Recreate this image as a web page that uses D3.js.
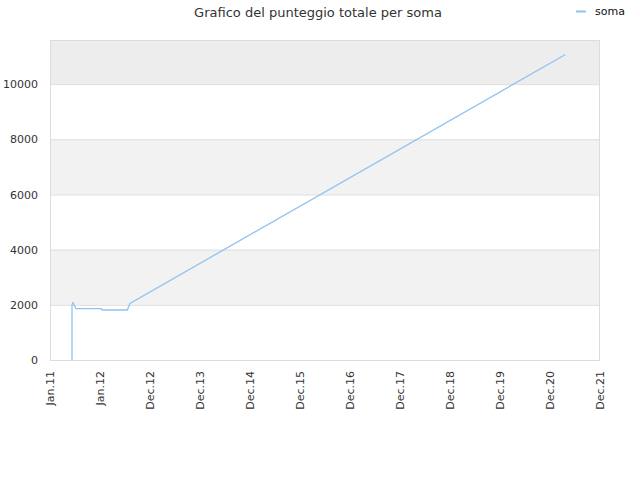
<!DOCTYPE html>
<html>
<head>
<meta charset="utf-8">
<script src="https://cdn.jsdelivr.net/npm/d3@7"></script>
<style>
  body { margin: 0; background: #fff; }
  text { font-family: "DejaVu Sans", sans-serif; }
</style>
</head>
<body>
<svg id="chart" width="640" height="480"></svg>
<script>
// tick labels along the bottom (evenly spaced)
const tickLabels = ["Jan.11", "Jan.12", "Dec.12", "Dec.13", "Dec.14", "Dec.15",
  "Dec.16", "Dec.17", "Dec.18", "Dec.19", "Dec.20", "Dec.21"];
// position of each point, in tick units (0 = Jan.11)
const pointPos = [0.44, 0.44, 0.46, 0.52, 1.03, 1.04, 1.55, 1.56, 1.60, 10.31];
// total score "soma"
const somaValues = [0, 2000, 2076, 1859, 1859, 1812, 1812, 1873, 2054, 11076];
const yTicks = [0, 2000, 4000, 6000, 8000, 10000];

const plotLeft = 50, plotRight = 600, plotTop = 40, plotBottom = 360;

const svg = d3.select("#chart");

const x = d3.scaleLinear().domain([0, tickLabels.length - 1]).range([plotLeft, plotRight]);
const y = d3.scaleLinear().domain([0, 11600]).range([plotBottom, plotTop]);

// bands
const bands = [
  { from: 2000, to: 4000, fill: "#f2f2f2" },
  { from: 6000, to: 8000, fill: "#f2f2f2" },
  { from: 10000, to: 11600, fill: "#ededed" }
];
svg.selectAll(".band")
  .data(bands)
  .join("rect")
  .attr("class", "band")
  .attr("x", plotLeft)
  .attr("width", plotRight - plotLeft)
  .attr("y", d => y(d.to))
  .attr("height", d => y(d.from) - y(d.to))
  .attr("fill", d => d.fill);

// grid lines
svg.selectAll(".grid")
  .data(yTicks.slice(1))
  .join("line")
  .attr("class", "grid")
  .attr("x1", plotLeft).attr("x2", plotRight)
  .attr("y1", d => y(d) + 0.5).attr("y2", d => y(d) + 0.5)
  .attr("stroke", "#dedede");

// frame
svg.append("rect")
  .attr("x", plotLeft + 0.5).attr("y", plotTop + 0.5)
  .attr("width", plotRight - plotLeft - 1).attr("height", plotBottom - plotTop)
  .attr("fill", "none")
  .attr("stroke", "#dcdcdc");

// y axis
const yAxis = d3.axisLeft(y).tickValues(yTicks).tickFormat(d3.format("d"))
  .tickSize(0).tickPadding(12);
svg.append("g")
  .attr("transform", `translate(${plotLeft},0)`)
  .call(yAxis)
  .call(g => g.select(".domain").remove())
  .selectAll("text")
  .attr("font-size", 11)
  .attr("fill", "#333")
  .attr("font-family", "DejaVu Sans, sans-serif");

// x axis
const xAxis = d3.axisBottom(x)
  .tickValues(d3.range(tickLabels.length))
  .tickFormat(i => tickLabels[i])
  .tickSize(0);
svg.append("g")
  .attr("transform", `translate(0,${plotBottom})`)
  .call(xAxis)
  .call(g => g.select(".domain").remove())
  .selectAll("text")
  .attr("font-size", 11)
  .attr("fill", "#333")
  .attr("font-family", "DejaVu Sans, sans-serif")
  .attr("text-anchor", "end")
  .attr("transform", "rotate(-90)")
  .attr("x", -11)
  .attr("y", 0)
  .attr("dy", "0.35em");

// line
const line = d3.line()
  .x((d, i) => x(pointPos[i]))
  .y(d => y(d));
svg.append("path")
  .datum(somaValues)
  .attr("d", line)
  .attr("fill", "none")
  .attr("stroke", "#90c2f3")
  .attr("stroke-width", 1.3);

// title
svg.append("text")
  .attr("x", 318).attr("y", 17)
  .attr("text-anchor", "middle")
  .attr("font-size", 13)
  .attr("fill", "#333")
  .text("Grafico del punteggio totale per soma");

// legend
svg.append("line")
  .attr("x1", 576).attr("x2", 586)
  .attr("y1", 11.5).attr("y2", 11.5)
  .attr("stroke", "#90c2f3")
  .attr("stroke-width", 2);
svg.append("text")
  .attr("x", 595).attr("y", 15)
  .attr("font-size", 11)
  .attr("fill", "#111")
  .text("soma");
</script>
</body>
</html>
